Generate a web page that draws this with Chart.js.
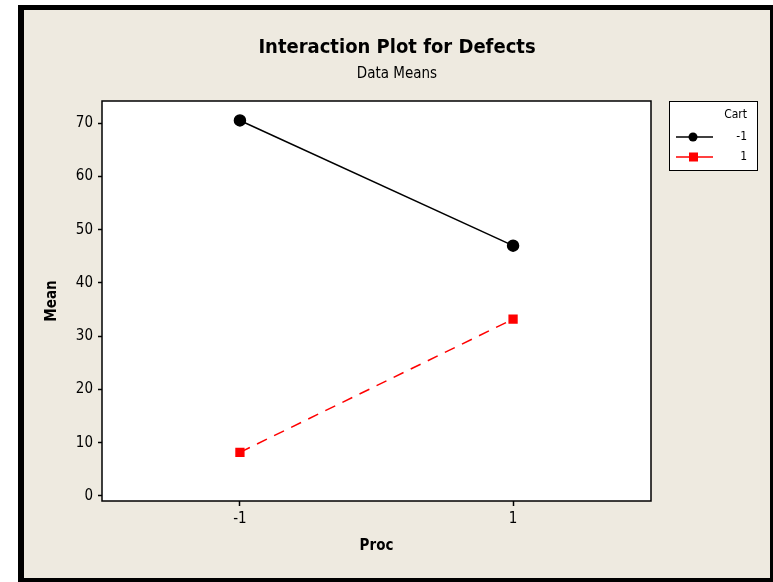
<!DOCTYPE html>
<html>
<head>
<meta charset="utf-8">
<script src="https://cdn.jsdelivr.net/npm/chart.js@4/dist/chart.umd.min.js"></script>
<style>
  html, body { margin: 0; padding: 0; background: #ffffff; }
  #wrap { width: 773px; height: 582px; }
</style>
</head>
<body>
<div id="wrap"><canvas id="c" width="773" height="582"></canvas></div>
<script>
// Factor levels and cell means
const procLevels = [-1, 1];
const cartLevels = ['-1', '1'];
const meansCartLow = [70.5, 47.0];   // Cart = -1
const meansCartHigh = [8.2, 33.2];   // Cart = 1
const yTickValues = [0, 10, 20, 30, 40, 50, 60, 70];
const xTickValues = [-1, 1];

const FONT = '"DejaVu Sans Condensed", "DejaVu Sans", sans-serif';
const BG = '#eeeae0';

const toPoints = (vals) => procLevels.map((p, i) => ({ x: p, y: vals[i] }));

const framePlugin = {
  id: 'frame',
  beforeDraw(chart) {
    const ctx = chart.ctx;
    const W = chart.width, H = chart.height;
    const a = chart.chartArea;
    ctx.save();
    ctx.fillStyle = '#ffffff';
    ctx.fillRect(0, 0, W, H);
    ctx.fillStyle = '#000000';
    ctx.fillRect(18, 5, W - 18, H - 5);
    ctx.fillStyle = BG;
    ctx.fillRect(24, 10, 770 - 24, 578 - 10);
    ctx.fillStyle = '#ffffff';
    ctx.fillRect(a.left, a.top, a.right - a.left, a.bottom - a.top);
    ctx.restore();
  },
  afterDraw(chart) {
    const ctx = chart.ctx;
    const a = chart.chartArea;
    ctx.save();
    // plot border
    ctx.strokeStyle = '#000000';
    ctx.lineWidth = 1.5;
    ctx.strokeRect(a.left, a.top, a.right - a.left, a.bottom - a.top);

    // titles
    const cx = (24 + 770) / 2;
    ctx.fillStyle = '#000000';
    ctx.textAlign = 'center';
    ctx.textBaseline = 'middle';
    ctx.font = 'bold 20px ' + FONT;
    ctx.fillText('Interaction Plot for Defects', cx, 48);
    ctx.font = '15px ' + FONT;
    ctx.fillText('Data Means', cx, 74);

    // legend
    const lx = 669, ly = 101, lw = 88, lh = 69;
    ctx.fillStyle = '#ffffff';
    ctx.fillRect(lx, ly, lw, lh);
    ctx.strokeStyle = '#000000';
    ctx.lineWidth = 1;
    ctx.strokeRect(lx + 0.5, ly + 0.5, lw, lh);
    ctx.fillStyle = '#000000';
    ctx.textAlign = 'right';
    ctx.font = '12px ' + FONT;
    ctx.fillText('Cart', 747, 115);
    const rows = [137, 157];
    chart.data.datasets.forEach((ds, i) => {
      const y = rows[i];
      ctx.strokeStyle = ds.borderColor;
      ctx.lineWidth = 1.5;
      ctx.setLineDash([]);
      ctx.beginPath();
      ctx.moveTo(676, y);
      ctx.lineTo(713, y);
      ctx.stroke();
      ctx.fillStyle = ds.pointBackgroundColor;
      if (ds.pointStyle === 'circle') {
        ctx.beginPath();
        ctx.arc(693, y, 4.5, 0, Math.PI * 2);
        ctx.fill();
      } else {
        ctx.fillRect(689, y - 4.5, 9, 9);
      }
      ctx.fillStyle = '#000000';
      ctx.fillText(ds.label, 747, y);
    });
    ctx.restore();
  }
};

new Chart(document.getElementById('c'), {
  type: 'line',
  data: {
    datasets: [
      {
        label: cartLevels[0],
        data: toPoints(meansCartLow),
        borderColor: '#000000',
        backgroundColor: '#000000',
        pointBackgroundColor: '#000000',
        pointBorderColor: '#000000',
        pointStyle: 'circle',
        pointRadius: 5.5,
        borderWidth: 1.5,
        tension: 0
      },
      {
        label: cartLevels[1],
        data: toPoints(meansCartHigh),
        borderColor: '#ff0000',
        backgroundColor: '#ff0000',
        pointBackgroundColor: '#ff0000',
        pointBorderColor: '#ff0000',
        pointStyle: 'rect',
        pointRadius: 5.5,
        borderWidth: 1.5,
        borderDash: [11, 8],
        tension: 0
      }
    ]
  },
  options: {
    responsive: false,
    animation: false,
    layout: { padding: { left: 0, right: 122, top: 101, bottom: 0 } },
    plugins: {
      legend: { display: false },
      title: { display: false },
      tooltip: { enabled: false }
    },
    scales: {
      x: {
        type: 'linear',
        min: -2.01,
        max: 2.01,
        afterBuildTicks: (s) => { s.ticks = xTickValues.map(v => ({ value: v })); },
        afterFit: (s) => { s.height = 81; },
        grid: { drawOnChartArea: false, drawTicks: true, tickLength: 5, tickColor: '#000000', tickWidth: 1.5 },
        border: { display: false },
        ticks: { color: '#000000', font: { family: FONT, size: 15 }, padding: 4, maxRotation: 0 },
        title: { display: true, text: 'Proc', color: '#000000', font: { family: FONT, size: 15, weight: 'bold' }, padding: { top: 0, bottom: 27 } }
      },
      y: {
        min: -0.94,
        max: 74.15,
        afterBuildTicks: (s) => { s.ticks = yTickValues.map(v => ({ value: v })); },
        afterFit: (s) => { s.width = 102; },
        grid: { drawOnChartArea: false, drawTicks: true, tickLength: 4, tickColor: '#000000', tickWidth: 1.5 },
        border: { display: false },
        ticks: { color: '#000000', font: { family: FONT, size: 15 }, padding: 5 },
        title: { display: true, text: 'Mean', color: '#000000', font: { family: FONT, size: 15, weight: 'bold' }, padding: { top: 43, bottom: 0 } }
      }
    }
  },
  plugins: [framePlugin]
});
</script>
</body>
</html>
